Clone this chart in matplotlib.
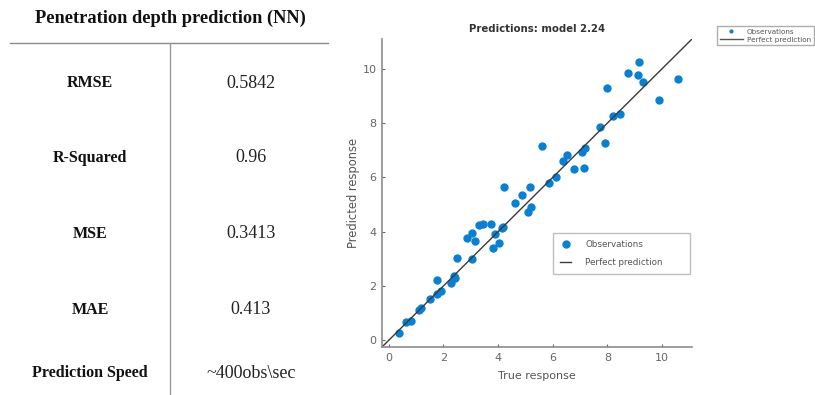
import numpy as np
import matplotlib.pyplot as plt
from matplotlib.lines import Line2D

# table content
metric_names = ['RMSE', 'R-Squared', 'MSE', 'MAE', 'Prediction Speed']
metric_values = ['0.5842', '0.96', '0.3413', '0.413', '~400obs\\sec']

# scatter data (true vs predicted)
true_resp = [0.39, 0.64, 0.82, 1.10, 1.16, 1.51, 1.76, 1.92, 1.78, 2.26,
             2.37, 2.44, 2.51, 2.85, 3.03, 3.16, 3.06, 3.29, 3.45, 3.73,
             3.90, 3.82, 4.05, 4.15, 4.19, 4.20, 4.63, 4.88, 5.17, 5.21,
             5.11, 5.59, 5.88, 6.12, 6.39, 6.52, 6.79, 7.16, 7.07, 7.18,
             7.91, 7.73, 8.19, 8.46, 8.00, 8.75, 9.17, 9.14, 9.29, 9.90,
             10.57]
pred_resp = [0.26, 0.68, 0.72, 1.10, 1.18, 1.53, 1.71, 1.82, 2.22, 2.10,
             2.37, 2.29, 3.02, 3.76, 3.94, 3.67, 2.98, 4.25, 4.28, 4.28,
             3.92, 3.38, 3.60, 4.12, 4.16, 5.65, 5.07, 5.35, 5.63, 4.90,
             4.74, 7.16, 5.78, 6.02, 6.61, 6.82, 6.30, 6.33, 6.92, 7.07,
             7.25, 7.86, 8.26, 8.33, 9.31, 9.86, 10.25, 9.76, 9.52, 8.85,
             9.61]
ax_lim = [-0.25, 11.1]

fig = plt.figure(figsize=(8.15, 3.95), dpi=100)

# ---- left: table ----
tab = fig.add_axes([0, 0, 1, 1])
tab.set_xlim(0, 815)
tab.set_ylim(395, 0)
tab.axis('off')
serif = 'Liberation Serif'
tab.text(170, 18, 'Penetration depth prediction (NN)', ha='center', va='center',
         fontsize=13.2, fontweight='bold', family=serif, color='#111111')
tab.plot([10, 328], [43, 43], color='#8a8a8a', lw=1.0)
tab.plot([170, 170], [43, 395], color='#9a9a9a', lw=1.0)
row_y = [83, 158, 234, 310, 373]
for name, val, y in zip(metric_names, metric_values, row_y):
    tab.text(90, y, name, ha='center', va='center', fontsize=11.5,
             fontweight='bold', family=serif, color='#111111')
    tab.text(251, y, val, ha='center', va='center', fontsize=13,
             family=serif, color='#222222')

# ---- right: scatter ----
ax = fig.add_axes([382 / 815, 1 - 347 / 395, 310 / 815, 308 / 395])
ax.plot(true_resp, pred_resp, 'o', color='#0b7fd0', ms=5, mec='#0b7fd0',
        label='Observations')
ax.plot(ax_lim, ax_lim, '-', color='#3a3a3a', lw=1.0, label='Perfect prediction')
ax.set_xlim(ax_lim)
ax.set_ylim(ax_lim)
ax.set_xticks(range(0, 11, 2))
ax.set_yticks(range(0, 11, 2))
for s in ['top', 'right']:
    ax.spines[s].set_visible(False)
for s in ['left', 'bottom']:
    ax.spines[s].set_color('#8c8c8c')
    ax.spines[s].set_linewidth(1.2)
ax.tick_params(direction='in', length=2.5, colors='#666666', labelsize=8,
               labelcolor='#666666', pad=4)
ax.set_xlabel('True response', fontsize=8, color='#555555', labelpad=6)
ax.set_ylabel('Predicted response', fontsize=8.3, color='#555555', labelpad=1.5)
ax.set_title('Predictions: model 2.24', fontsize=7.3, fontweight='bold',
             color='#333333', pad=5)
ax.legend(loc='upper left', bbox_to_anchor=(0.552, 0.23, 0.44, 0.14),
          mode='expand', borderaxespad=0, fontsize=6.3,
          frameon=True, fancybox=False, edgecolor='#b0b0b0',
          handlelength=1.3, borderpad=0.8, labelspacing=1.0,
          handletextpad=1.6, labelcolor='#555555')

# small legend at top right (frame runs past the edge as in the original)
handles = [Line2D([], [], marker='.', ls='none', color='#0b7fd0', ms=4),
           Line2D([], [], color='#555555', lw=1.0)]
fig.legend(handles, ['Observations', 'Perfect prediction'],
           loc='upper left', bbox_to_anchor=(717 / 815, 1 - 26 / 395),
           fontsize=5.2, frameon=True, fancybox=False, edgecolor='#999999',
           borderpad=0.35, labelspacing=0.3, handlelength=3.3,
           handletextpad=0.5, borderaxespad=0, labelcolor='#555555')

fig.savefig('out.png', dpi=100)
